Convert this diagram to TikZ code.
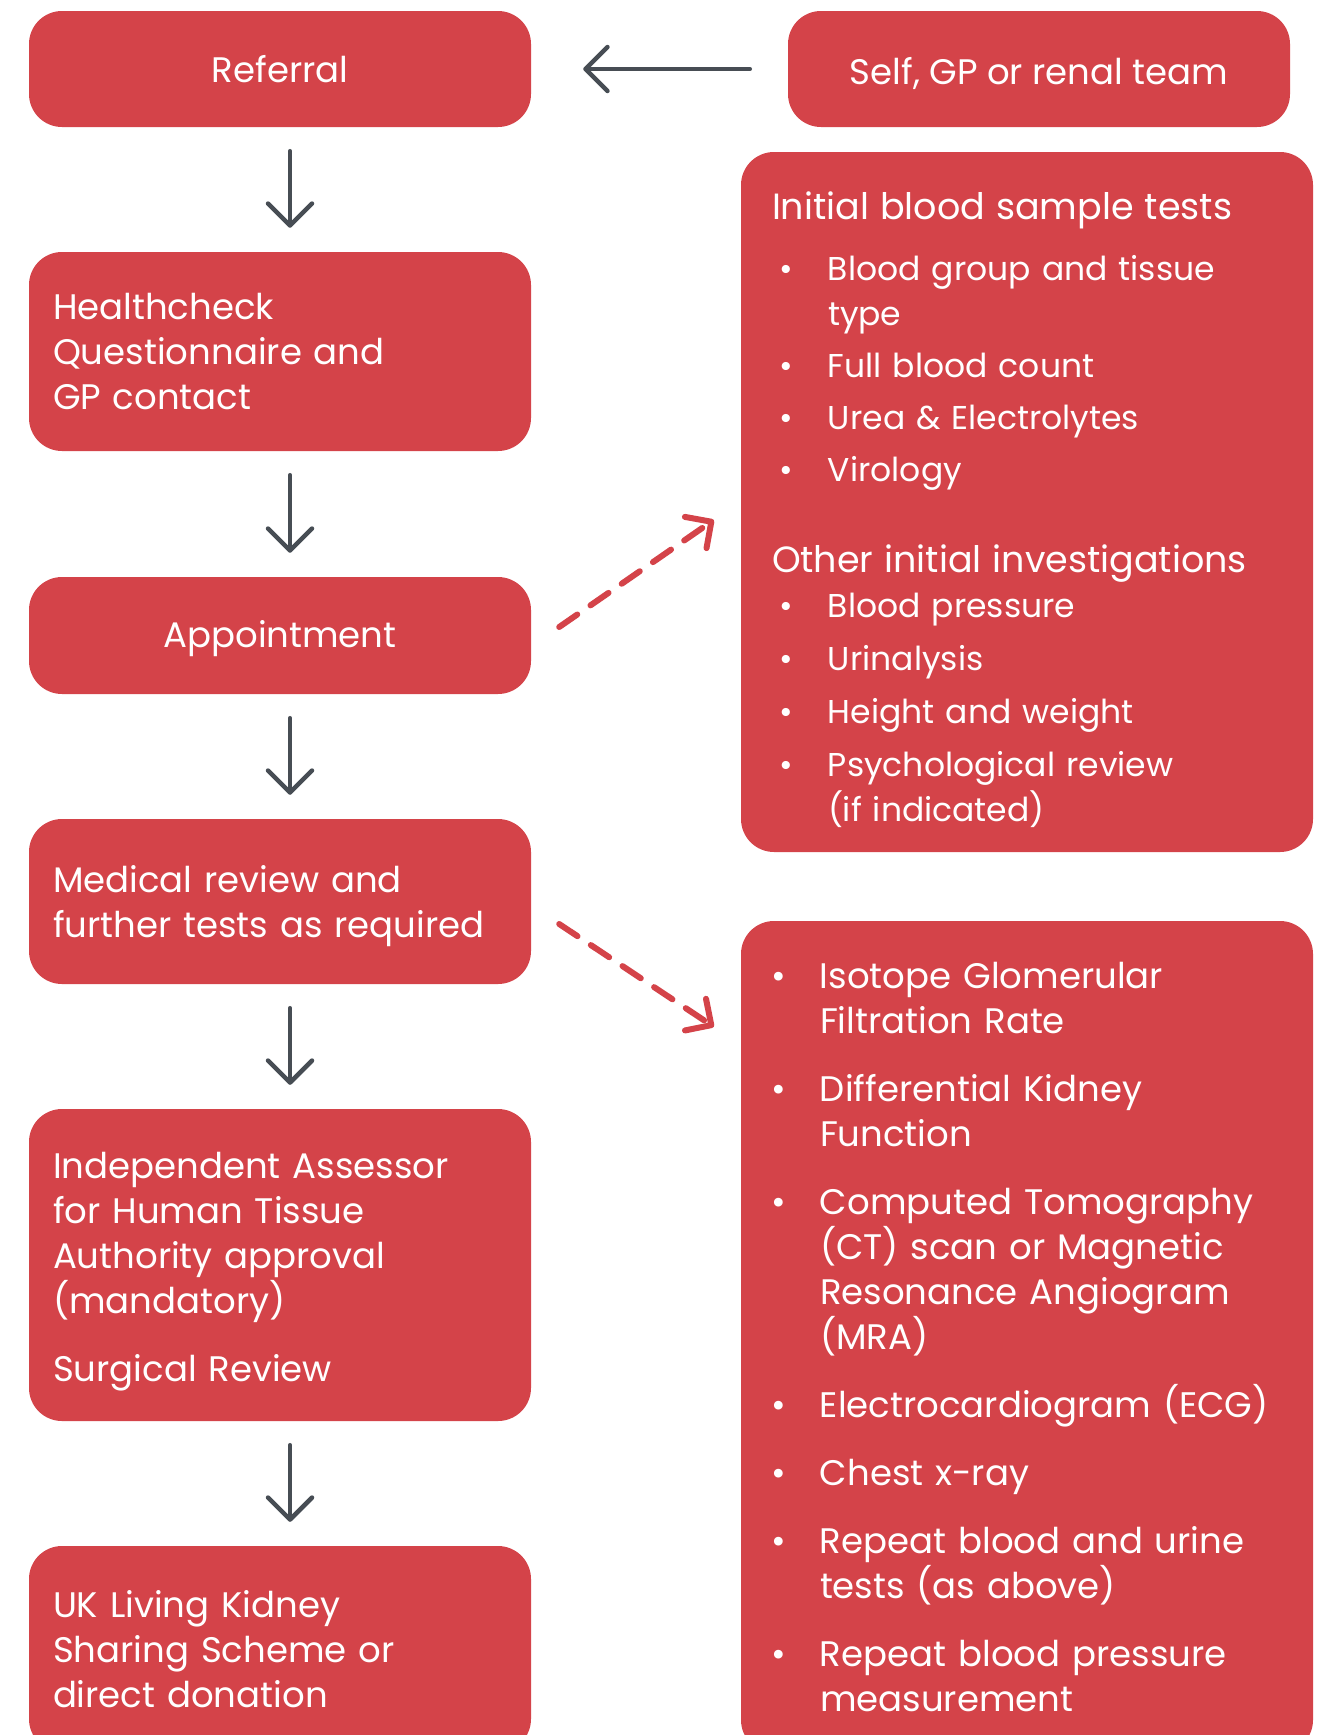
\documentclass[tikz,border=0pt]{standalone}
\usepackage{fontspec}
\setmainfont{Poppins}
\usetikzlibrary{calc,arrows.meta}
\definecolor{boxred}{RGB}{212,67,73}
\definecolor{arrowgrey}{RGB}{71,77,84}
\tikzstyle{stage}=[shape=rectangle, rounded corners=33pt, fill=boxred, text=white, inner sep=0, minimum width=502pt, font=\fontsize{35.5}{45}\selectfont]
\tikzstyle{stagetext}=[stage, text width=454pt, align=left, inner xsep=24pt]
\tikzstyle{testbox}=[stage, minimum width=572pt, align=left]
\tikzstyle{nextarrow}=[draw=arrowgrey, line width=4.5pt, line cap=round, shorten <=24pt, shorten >=24pt, -{Straight Barb[length=22pt, width=44pt, line cap=round, line join=round]}]
\tikzstyle{testarrow}=[draw=boxred, line width=6pt, line cap=round, dash pattern=on 22pt off 16pt, -{Straight Barb[length=19pt, width=38pt, line cap=round, line join=round]}]
\newcommand{\bul}[1]{\makebox[#1][l]{\hspace*{-7pt}\textbullet}}
\newcommand{\bulin}[1]{\makebox[#1][l]{\hspace*{7pt}\textbullet}}
\newcommand{\headline}[1]{{\fontsize{36.5}{45}\selectfont #1}}

\begin{document}
\begin{tikzpicture}[x=1pt, y=-1pt]
\useasboundingbox (0,0) rectangle (1319,1735);
%
\node[stage, minimum height=116pt] (referral) at (280,69) {Referral};
\node[stage, minimum height=116pt] (source) at (1039,69) {\rule{0pt}{36pt}Self, GP or renal team};
\node[stagetext, minimum height=199pt] (health) at (280,351.5) {Healthcheck\\ Questionnaire and\\ GP contact};
\node[stage, minimum height=117pt] (appoint) at (280,635.5) {\rule{0pt}{34pt}Appointment};
\node[stagetext, minimum height=165pt] (medical) at (280,901.5) {\rule{0pt}{36pt}Medical review and\\ further tests as required};
\node[stagetext, minimum height=312pt] (assessor) at (280,1265) {\rule{0pt}{40pt}Independent Assessor\\ for Human Tissue\\ Authority approval\\ (mandatory)\\[23pt] Surgical Review};
\node[stagetext, minimum height=206pt] (sharing) at (280,1649) {UK Living Kidney\\ Sharing Scheme or\\ direct donation};
%
\node[testbox, minimum height=700pt, text width=510pt, inner xsep=31pt, font=\fontsize{33}{45}\selectfont] (bloodtests) at (1027,502) {%
\rule{0pt}{44pt}\headline{Initial blood sample tests}\\[16pt]
\bulin{56pt}Blood group and tissue\\
\hspace*{56pt}type\\[7pt]
\bulin{56pt}Full blood count\\[7pt]
\bulin{56pt}Urea \& Electrolytes\\[7pt]
\bulin{56pt}Virology\\[46pt]
\headline{Other initial investigations}\\
\bulin{56pt}Blood pressure\\[8pt]
\bulin{56pt}Urinalysis\\[8pt]
\bulin{56pt}Height and weight\\[8pt]
\bulin{56pt}Psychological review\\
\hspace*{56pt}(if indicated)};
\node[testbox, minimum height=832pt, text width=498pt, inner xsep=37pt] (furthertests) at (1027,1337) {%
\bul{42pt}Isotope Glomerular\\
\hspace*{42pt}Filtration Rate\\[23pt]
\bul{42pt}Differential Kidney\\
\hspace*{42pt}Function\\[23pt]
\bul{42pt}Computed Tomography\\
\hspace*{42pt}(CT) scan or Magnetic\\
\hspace*{42pt}Resonance Angiogram\\
\hspace*{42pt}(MRA)\\[23pt]
\bul{42pt}Electrocardiogram (ECG)\\[23pt]
\bul{42pt}Chest x-ray\\[23pt]
\bul{42pt}Repeat blood and urine\\
\hspace*{42pt}tests (as above)\\[23pt]
\bul{42pt}Repeat blood pressure\\
\hspace*{42pt}measurement};
%
\draw[nextarrow, shorten <=38pt, shorten >=52pt] (source.west) -- (referral.east);
\foreach \a/\b in {referral/health, health/appoint, appoint/medical, medical/assessor, assessor/sharing}
    \draw[nextarrow] ([xshift=10pt]\a.south) -- ([xshift=10pt]\b.north);
%
\draw[testarrow] ($(appoint.east)+(28,-8.5)$) -- ($(bloodtests.west)+(-27,18)$);
\draw[testarrow] ($(medical.east)+(28,22.5)$) -- ($(furthertests.north west)+(-27,106)$);
\end{tikzpicture}
\end{document}
